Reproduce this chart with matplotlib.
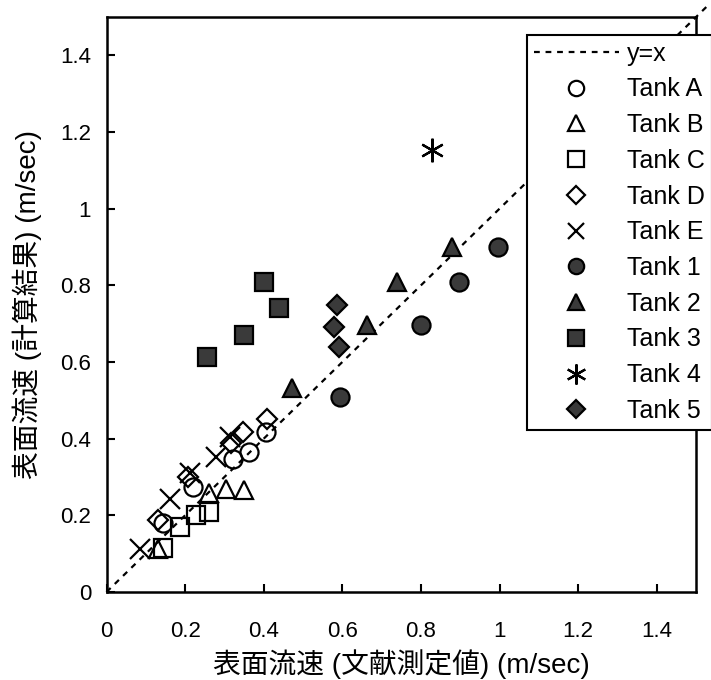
import matplotlib
matplotlib.use("Agg")
import matplotlib.pyplot as plt

plt.rcParams['font.family'] = ['Liberation Sans', 'Noto Sans CJK JP', 'DejaVu Sans']

# Measured (literature) vs computed surface velocity, m/sec
tank_a_x = [0.144, 0.220, 0.322, 0.363, 0.406]
tank_a_y = [0.180, 0.274, 0.347, 0.366, 0.418]
tank_b_x = [0.131, 0.261, 0.304, 0.350]
tank_b_y = [0.112, 0.258, 0.269, 0.266]
tank_c_x = [0.144, 0.187, 0.228, 0.261]
tank_c_y = [0.115, 0.170, 0.201, 0.209]
tank_d_x = [0.131, 0.207, 0.317, 0.347, 0.408]
tank_d_y = [0.188, 0.300, 0.389, 0.418, 0.452]
tank_e_x = [0.085, 0.162, 0.212, 0.279, 0.314]
tank_e_y = [0.112, 0.243, 0.311, 0.352, 0.405]
tank_1_x = [0.594, 0.800, 0.897, 0.996]
tank_1_y = [0.509, 0.697, 0.809, 0.901]
tank_2_x = [0.472, 0.662, 0.739, 0.879]
tank_2_y = [0.533, 0.697, 0.809, 0.901]
tank_3_x = [0.256, 0.351, 0.401, 0.439]
tank_3_y = [0.614, 0.671, 0.809, 0.742]
tank_4_x = [0.829]
tank_4_y = [1.154]
tank_5_x = [0.586, 0.579, 0.592]
tank_5_y = [0.749, 0.692, 0.640]

line_x = [0.0, 1.53]
line_y = [0.0, 1.53]

x_ticks = [0, 0.2, 0.4, 0.6, 0.8, 1.0, 1.2, 1.4]
x_tick_labels = ['0', '0.2', '0.4', '0.6', '0.8', '1', '1.2', '1.4']
y_ticks = [0, 0.2, 0.4, 0.6, 0.8, 1.0, 1.2, 1.4]
y_tick_labels = ['0', '0.2', '0.4', '0.6', '0.8', '1', '1.2', '1.4']

fig = plt.figure(figsize=(7.11, 6.80), dpi=100)
ax = fig.add_axes([0.1498, 0.1294, 0.8292, 0.8456])

ax.plot(line_x, line_y, linestyle=(0, (2.6, 2.6)), color='black', lw=1.6,
        clip_on=False, label='y=x', zorder=2)

fill = '#3a3a3a'
ms = 13
mew = 1.6
open_style = dict(linestyle='none', markerfacecolor='none', markeredgecolor='black',
                  markersize=ms, markeredgewidth=mew, zorder=3)
filled_style = dict(linestyle='none', markerfacecolor=fill, markeredgecolor='black',
                    markersize=ms, markeredgewidth=mew, zorder=3)

ax.plot(tank_a_x, tank_a_y, marker='o', label='Tank A', **open_style)
ax.plot(tank_b_x, tank_b_y, marker='^', label='Tank B', **open_style)
ax.plot(tank_c_x, tank_c_y, marker='s', label='Tank C', **open_style)
ax.plot(tank_d_x, tank_d_y, marker='D', label='Tank D',
        **{**open_style, 'markersize': ms * 0.8})
ax.plot(tank_e_x, tank_e_y, marker='x', label='Tank E',
        **{**open_style, 'markersize': 14})
ax.plot(tank_1_x, tank_1_y, marker='o', label='Tank 1', **filled_style)
ax.plot(tank_2_x, tank_2_y, marker='^', label='Tank 2', **filled_style)
ax.plot(tank_3_x, tank_3_y, marker='s', label='Tank 3', **filled_style)
ax.plot(tank_4_x, tank_4_y, marker=(6, 2, 0), label='Tank 4',
        **{**open_style, 'markersize': 17})
ax.plot(tank_5_x, tank_5_y, marker='D', label='Tank 5',
        **{**filled_style, 'markersize': ms * 0.8})

ax.set_xlim(0, 1.5)
ax.set_ylim(0, 1.5)
ax.set_xticks(x_ticks)
ax.set_xticklabels(x_tick_labels)
ax.set_yticks(y_ticks)
ax.set_yticklabels(y_tick_labels)
ax.tick_params(direction='in', length=6, width=1.5, labelsize=16,
               top=False, right=False)
ax.tick_params(axis='x', pad=21)
ax.tick_params(axis='y', pad=11)
for side in ax.spines.values():
    side.set_linewidth(1.8)

ax.set_xlabel('表面流速 (文献測定値) (m/sec)', fontsize=20, labelpad=5)
ax.set_ylabel('表面流速 (計算結果) (m/sec)', fontsize=20, labelpad=13)

leg = fig.legend(loc='upper left', bbox_to_anchor=(527 / 711, 1 - 35 / 680),
                 frameon=True, fancybox=False, edgecolor='black', framealpha=1,
                 fontsize=18, handlelength=3.4, handletextpad=0.35,
                 labelspacing=0.47, borderpad=0.26, markerscale=0.85,
                 borderaxespad=0)
leg.get_frame().set_linewidth(1.5)
leg.set_zorder(10)

fig.savefig('out.png', dpi=100)
